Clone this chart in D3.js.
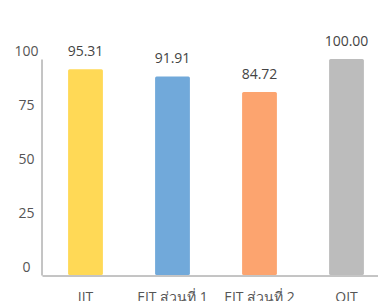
<!DOCTYPE html>
<html>
<head>
<meta charset="utf-8">
<script src="https://cdn.jsdelivr.net/npm/d3@7"></script>
<style>
  body { margin: 0; background: #fff; }
  svg { display: block; font-family: "Open Sans", "Noto Sans", sans-serif; }
</style>
</head>
<body>
<div id="chart"></div>
<script>
const categories = ["IIT", "EIT ส่วนที่ 1", "EIT ส่วนที่ 2", "OIT"];
const scores = [95.31, 91.91, 84.72, 100.00];
const barColors = ["#FFD956", "#71A9DA", "#FCA46F", "#BCBCBC"];
const yTicks = [0, 25, 50, 75, 100];

const W = 378, H = 301;
const svg = d3.select("#chart").append("svg")
  .attr("width", W)
  .attr("height", H);

const x = d3.scaleBand()
  .domain(categories)
  .range([42, 390])
  .paddingInner(0.6)
  .paddingOuter(0.3);

const y = d3.scaleLinear()
  .domain([0, 100])
  .range([275, 59]);

// bars
svg.selectAll("rect.bar")
  .data(scores)
  .enter()
  .append("rect")
  .attr("class", "bar")
  .attr("x", (d, i) => x(categories[i]))
  .attr("y", d => y(d))
  .attr("width", x.bandwidth())
  .attr("height", d => y(0) - y(d))
  .attr("rx", 1.5)
  .attr("fill", (d, i) => barColors[i]);

// value labels
svg.selectAll("text.val")
  .data(scores)
  .enter()
  .append("text")
  .attr("class", "val")
  .attr("x", (d, i) => x(categories[i]) + x.bandwidth() / 2)
  .attr("y", d => y(d) - 13)
  .attr("text-anchor", "middle")
  .attr("font-size", "14px")
  .attr("fill", "#444")
  .text(d => d.toFixed(2));

// y axis
const yAxis = d3.axisLeft(y)
  .tickValues(yTicks)
  .tickSize(0)
  .tickSizeOuter(0);

const yAxisGroup = svg.append("g")
  .attr("transform", "translate(41.5, 0)")
  .call(yAxis);

yAxisGroup.select(".domain").attr("stroke", "#8a8a8a");
yAxisGroup.selectAll("text")
  .attr("x", -15)
  .attr("dy", "-0.25em")
  .attr("text-anchor", "middle")
  .attr("font-size", "14px")
  .attr("font-family", "'Open Sans', sans-serif")
  .attr("fill", "#555");

// x axis
const xAxis = d3.axisBottom(x)
  .tickSize(0)
  .tickSizeOuter(0);

const xAxisGroup = svg.append("g")
  .attr("transform", "translate(0, 275.5)")
  .call(xAxis);

xAxisGroup.select(".domain").attr("stroke", "#8a8a8a");
xAxisGroup.selectAll("text")
  .attr("y", 17)
  .attr("font-size", "14px")
  .attr("font-family", "'Open Sans', 'Noto Sans', sans-serif")
  .attr("fill", "#555");
</script>
</body>
</html>
